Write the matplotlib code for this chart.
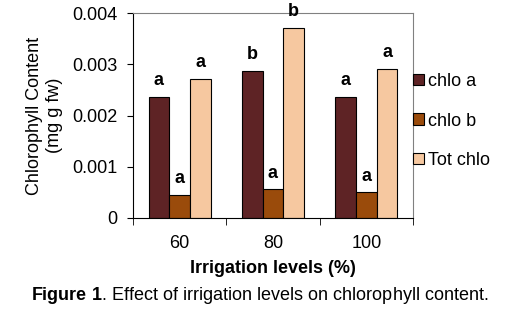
import numpy as np
import matplotlib
matplotlib.use("Agg")
import matplotlib.pyplot as plt

plt.rcParams['font.family'] = ['Liberation Sans', 'DejaVu Sans']
plt.rcParams['mathtext.fontset'] = 'custom'
plt.rcParams['mathtext.bf'] = 'Liberation Sans:bold'
plt.rcParams['mathtext.rm'] = 'Liberation Sans'

levels = ['60', '80', '100']
series = ['chlo a', 'chlo b', 'Tot chlo']
chlo_a = [0.00236, 0.00287, 0.00236]
chlo_b = [0.00045, 0.00056, 0.00050]
tot_chlo = [0.00271, 0.00371, 0.00291]
letters_a = ['a', 'b', 'a']
letters_b = ['a', 'a', 'a']
letters_tot = ['a', 'b', 'a']

colors = ['#5E2325', '#9A4B0B', '#F6C8A0']

fig = plt.figure(figsize=(5.2, 3.25), dpi=100)
ax = fig.add_axes([133/520, 1 - 218/325, 280/520, 205/325])

x = np.arange(len(levels))
w = 0.222
values = [chlo_a, chlo_b, tot_chlo]
letters = [letters_a, letters_b, letters_tot]
for i, (vals, lab, col, lets) in enumerate(zip(values, series, colors, letters)):
    pos = x + (i - 1) * w
    ax.bar(pos, vals, w, color=col, edgecolor='black', linewidth=0.8, label=lab)
    for p, v, t in zip(pos, vals, lets):
        ax.text(p, v + 0.00023, t, ha='center', va='baseline',
                fontsize=13, fontweight='bold', clip_on=False)

ax.set_xlim(-0.5, 2.5)
ax.set_ylim(0, 0.004)
ax.set_yticks([0, 0.001, 0.002, 0.003, 0.004])
ax.set_yticklabels(['0', '0.001', '0.002', '0.003', '0.004'], fontsize=13)
ax.set_xticks(x)
ax.set_xticklabels(levels, fontsize=13)
ax.set_xticks([-0.5, 0.5, 1.5, 2.5], minor=True)
ax.tick_params(axis='x', which='major', length=0, pad=12)
ax.tick_params(axis='x', which='minor', length=5, direction='out')
ax.tick_params(axis='y', length=4.5, direction='out', pad=7)
for s in ['top', 'right']:
    ax.spines[s].set_color('#808080')

ax.set_ylabel('Chlorophyll Content\n(mg g fw)', fontsize=13, labelpad=6,
              linespacing=1.25)
ax.set_xlabel('Irrigation levels (%)', fontsize=13, fontweight='bold', labelpad=6)

ax.legend(loc='center left', bbox_to_anchor=(1.0, 0.473), frameon=False,
          fontsize=13, handlelength=0.6, handleheight=0.6, handletextpad=0.25,
          labelspacing=1.25, borderaxespad=0.0, borderpad=0.0)

fig.text(0.5, 1 - 296/325, r'$\mathbf{Figure\ 1}$. Effect of irrigation levels on chlorophyll content.',
         ha='center', va='center', fontsize=13)

fig.savefig('out.png', dpi=100)
